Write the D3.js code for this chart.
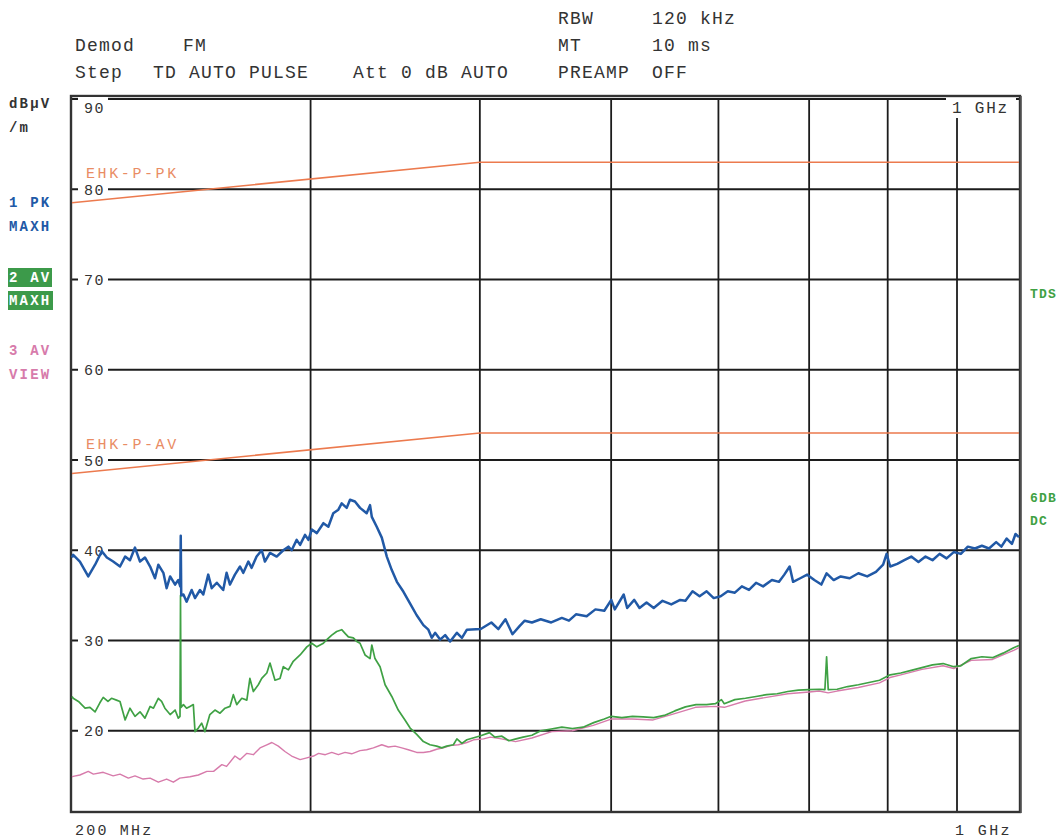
<!DOCTYPE html>
<html>
<head>
<meta charset="utf-8">
<script src="https://cdn.jsdelivr.net/npm/d3@7"></script>
<style>
body { margin: 0; background: #fff; }
text { font-family: "Liberation Mono", "DejaVu Sans Mono", monospace; }
</style>
</head>
<body>
<svg id="chart" width="1061" height="839"></svg>
<script>
// grid / tick values
const yTicks = [20, 30, 40, 50, 60, 70, 80, 90];
const xGrid = [300, 400, 500, 600, 700, 800, 900];

// limit lines [MHz, dBuV/m]
const pkLimit = [[200, 78.5], [400, 83], [1000, 83]];
const avLimit = [[200, 48.5], [400, 53], [1000, 53]];

// trace 1 : PK MAXH
const pkTrace = [[200,39.2],[200.4,39.5],[202.7,38.75],[205.6,37.1],[208.0,38.4],[210.4,39.9],[212.2,39.2],[214.5,38.75],[217.0,38.2],[218.9,39.3],[220.7,38.9],[222.6,40.3],[224.5,38.75],[226.4,39.2],[228.4,38.2],[230.3,36.9],[231.6,38.4],[233.6,37.5],[234.9,35.8],[236.3,37.1],[238.3,36.2],[239.6,36.7],[240.4,36.0],[240.6,41.6],[240.8,35.0],[241.7,35.1],[243.0,34.3],[245.1,35.6],[246.5,34.7],[248.6,35.6],[250.0,35.1],[252.1,37.3],[253.6,35.8],[255.8,36.4],[258.6,35.6],[260.1,37.5],[261.6,36.2],[263.8,37.3],[266.1,38.2],[267.6,37.5],[269.9,38.75],[271.4,38.05],[273.7,39.3],[276.1,40.0],[277.6,38.75],[280.0,39.7],[283.2,39.3],[286.4,40.0],[288.9,40.4],[290.5,40.0],[293.0,41.15],[294.7,40.6],[297.2,41.7],[298.9,41.15],[300.6,42.3],[303.2,41.9],[306.6,43.0],[309.2,42.6],[311.8,44.1],[314.5,44.5],[316.3,45.2],[319.0,44.7],[320.8,45.6],[323.5,45.4],[326.3,44.7],[330.0,44.1],[331.9,45.0],[332.9,43.7],[335.7,42.6],[338.6,41.4],[341.5,39.3],[344.4,37.8],[347.4,36.5],[351.3,35.4],[355.3,34.1],[359.3,32.8],[363.4,31.7],[366.5,31.2],[368.6,30.3],[370.7,30.85],[373.9,30.1],[377.1,30.6],[380.3,29.9],[384.7,30.85],[388.0,30.3],[391.3,31.2],
  [400.6,31.27],[407.9,32.0],[412.8,31.27],[417.8,32.36],[422.8,30.7],[427.9,31.6],[431.7,32.2],[437.0,32.0],[443.6,32.36],[451.6,32.0],[459.8,32.5],[465.4,32.2],[471.0,32.9],[479.6,32.7],[486.8,33.45],[494.2,33.3],[500.1,34.5],[503.1,33.45],[510.8,35.1],[513.8,33.6],[520.0,34.5],[524.7,33.6],[531.0,34.2],[537.5,33.6],[545.6,34.4],[553.8,34.0],[562.2,34.5],[567.3,34.4],[574.2,35.45],[581.1,34.9],[588.1,35.45],[595.2,34.7],[602.3,34.9],[609.6,35.45],[617.0,35.3],[624.4,36.0],[632.0,35.6],[639.6,36.4],[647.3,36.0],[657.1,36.7],[665.1,36.5],[671.1,37.3],[677.2,38.2],[681.2,36.5],[689.5,36.9],[697.7,37.3],[706.2,36.7],[714.7,36.2],[721.1,37.45],[729.8,36.7],[738.6,37.1],[749.9,36.9],[761.1,37.45],[772.6,37.1],[784.2,37.6],[793.8,38.4],[798.5,39.6],[803.4,38.2],[813.1,38.5],[822.9,38.9],[832.7,39.3],[842.9,38.7],[853.1,39.3],[863.3,38.9],[873.8,39.6],[884.2,39.1],[895.0,39.8],[905.9,39.6],[916.7,40.4],[927.8,40.2],[938.9,40.5],[950.3,40.2],[961.9,40.9],[970.5,40.4],[979.3,41.3],[988.1,40.7],[994.1,41.8],[1000,41.45]];

// trace 2 : AV MAXH
const avTrace = [[200,23.8],[200.4,23.6],[202.2,23.25],[204.5,22.5],[206.2,22.6],[208.0,22.1],[209.7,23.1],[210.9,23.7],[212.6,23.25],[213.9,23.6],[215.7,23.4],[217.0,23.25],[218.9,21.2],[220.7,22.5],[222.6,21.6],[224.5,22.1],[226.4,21.4],[228.4,22.7],[229.7,22.5],[231.6,23.6],[232.9,23.25],[234.2,22.5],[236.3,21.8],[238.3,22.3],[239.6,21.4],[240.3,21.6],[240.5,35.0],[240.7,22.6],[241.7,22.9],[243.0,22.5],[244.4,22.7],[245.8,22.9],[246.5,19.9],[247.9,20.3],[249.3,20.85],[250.7,19.9],[252.8,21.8],[255.0,22.3],[257.2,21.95],[259.4,22.5],[261.6,22.7],[263.1,24.0],[264.6,22.9],[266.9,23.6],[269.2,23.4],[270.6,25.8],[272.2,24.35],[274.5,25.1],[276.1,25.8],[278.5,26.4],[280.0,27.5],[282.4,25.6],[284.8,25.8],[286.4,27.1],[288.9,26.75],[291.3,27.7],[294.7,28.4],[298.1,29.3],[300.6,29.7],[303.2,29.3],[306.6,29.7],[308.4,30.1],[311.0,30.6],[313.6,31.0],[316.3,31.2],[318.1,30.8],[319.9,30.4],[322.6,30.3],[324.5,29.9],[326.3,29.7],[329.1,28.4],[331.9,28.0],[332.9,29.5],[334.7,28.0],[337.6,27.1],[340.5,25.1],[344.4,23.8],[348.2,22.3],[352.2,21.2],[355.3,20.3],[359.3,19.6],[363.4,18.8],[367.5,18.45],[371.7,18.3],[374.9,18.1],[378.1,18.3],[382.4,18.45],[384.7,19.1],[388.0,18.6],[391.3,19.0],
  [400.6,19.45],[406.6,19.8],[410.3,19.3],[415.3,19.4],[420.2,18.9],[425.4,19.1],[430.5,19.3],[437.0,19.5],[443.6,20.0],[451.6,20.2],[459.8,20.4],[468.2,20.25],[476.7,20.4],[485.4,20.9],[494.2,21.3],[500.1,21.6],[509.2,21.45],[518.5,21.6],[527.9,21.55],[537.5,21.45],[547.3,21.7],[557.1,22.2],[567.3,22.65],[577.6,22.9],[588.1,22.9],[596.9,23.0],[603.1,23.45],[606.0,23.0],[617.0,23.45],[628.2,23.6],[639.6,23.8],[651.2,24.0],[663.0,24.1],[675.1,24.35],[687.3,24.5],[699.7,24.55],[712.4,24.6],[719.0,24.55],[721.1,28.2],[723.1,24.55],[734.1,24.6],[747.4,24.9],[761.1,25.1],[774.9,25.35],[789.0,25.6],[803.4,26.2],[818.0,26.4],[832.7,26.7],[847.9,27.0],[863.3,27.3],[879.0,27.45],[895.0,27.1],[905.9,27.2],[922.2,28.0],[938.9,28.2],[956.0,28.1],[973.3,28.6],[991.0,29.2],[1000,29.45]];

// trace 3 : AV VIEW
const viewTrace = [[200,14.9],[200.4,14.95],[202.7,15.1],[205.6,15.5],[207.4,15.2],[210.9,15.4],[214.5,15.0],[217.0,15.2],[220.1,14.75],[222.6,15.0],[225.7,14.65],[228.4,14.75],[231.6,14.3],[234.9,14.65],[237.6,14.3],[240.2,14.75],[244.4,14.9],[247.9,15.1],[251.5,15.5],[254.4,15.5],[258.0,16.25],[260.1,16.05],[263.8,17.2],[266.1,16.8],[269.2,17.5],[272.2,17.35],[275.3,18.1],[278.5,18.45],[280.9,18.7],[284.0,18.3],[287.2,17.7],[290.5,17.2],[294.7,16.8],[298.1,17.0],[301.5,17.2],[304.1,17.5],[307.6,17.35],[311.0,17.6],[314.5,17.35],[318.1,17.6],[321.7,17.45],[326.3,17.8],[330.0,17.9],[333.8,18.1],[338.6,18.45],[342.4,18.2],[346.3,18.3],[350.3,18.1],[354.2,17.9],[359.3,17.6],[363.4,17.6],[367.5,17.7],[371.7,17.95],[375.9,18.1],[380.3,18.35],[385.7,18.45],[391.3,18.7],[395.8,19.0],[402.5,19.1],[407.2,19.3],
  [415,19.1],[425,18.8],[437,19.2],[452,19.9],[468,20.0],[485,20.6],[500,21.3],[518,21.3],[537,21.2],[557,21.9],[577,22.6],[597,22.7],[606,22.6],[628,23.3],[651,23.7],[675,24.1],[700,24.3],[712,24.4],[723,24.2],[734,24.4],[761,24.8],[789,25.3],[803,25.9],[818,26.2],[848,26.8],[879,27.2],[895,26.9],[922,27.8],[956,27.9],[973,28.4],[991,28.9],[1000,29.2]];

// header rows
const headerItems = [
  {t: "RBW", x: 558, y: 24}, {t: "120 kHz", x: 652, y: 24},
  {t: "Demod", x: 75, y: 51}, {t: "FM", x: 183, y: 51}, {t: "MT", x: 558, y: 51}, {t: "10 ms", x: 652, y: 51},
  {t: "Step", x: 75, y: 78}, {t: "TD AUTO PULSE", x: 153, y: 78}, {t: "Att 0 dB AUTO", x: 353, y: 78},
  {t: "PREAMP", x: 558, y: 78}, {t: "OFF", x: 652, y: 78}
];

const C = {blue: "#2159a6", green: "#3fa144", pink: "#d77bab", limit: "#ec7a4e", limitText: "#e98c64", grid: "#1c1c1c"};

const svg = d3.select("#chart");
const x = d3.scaleLog().domain([200, 1000]).range([72, 1019]);
const y = d3.scaleLinear().domain([11, 90]).range([812, 99]);

// grid
svg.append("g").selectAll("line.h").data(yTicks).enter().append("line")
  .attr("x1", x(200)).attr("x2", x(1000))
  .attr("y1", d => y(d)).attr("y2", d => y(d))
  .attr("stroke", C.grid).attr("stroke-width", 1.8);
svg.append("g").selectAll("line.v").data(xGrid).enter().append("line")
  .attr("x1", d => x(d)).attr("x2", d => x(d))
  .attr("y1", y(90)).attr("y2", y(11))
  .attr("stroke", C.grid).attr("stroke-width", 1.8);

// frame (doubled edges like the plotter output)
svg.append("rect").attr("x", 71).attr("y", 96).attr("width", 949).attr("height", 716)
  .attr("fill", "none").attr("stroke", "#333").attr("stroke-width", 2.4);
svg.append("line").attr("x1", 1021).attr("x2", 1021).attr("y1", 96).attr("y2", 813)
  .attr("stroke", "#555").attr("stroke-width", 1.6);

// y labels with white knockouts
const yl = svg.append("g");
yTicks.forEach(function(v) {
  const cy = v === 90 ? y(v) + 8 : y(v);
  yl.append("rect").attr("x", 78).attr("y", (v === 90 ? y(v) - 2 : cy - 6)).attr("width", 30).attr("height", v === 90 ? 17 : 12).attr("fill", "#fff");
  yl.append("text").attr("x", 84).attr("y", cy + 5.5)
    .attr("font-size", 15).attr("letter-spacing", 1.6).attr("fill", "#333").text(v);
});

// "1 GHz" at top right
svg.append("rect").attr("x", 946).attr("y", 98).attr("width", 70).attr("height", 20).attr("fill", "#fff");
svg.append("text").attr("x", 952).attr("y", 113).attr("font-size", 16).attr("letter-spacing", 1.8).attr("fill", "#333").text("1 GHz");

const line = d3.line().x(d => x(d[0])).y(d => y(d[1]));

// limit lines
[pkLimit, avLimit].forEach(function(l) {
  svg.append("path").datum(l).attr("d", line).attr("fill", "none")
    .attr("stroke", C.limit).attr("stroke-width", 1.6);
});
svg.append("text").attr("x", 86).attr("y", 178).attr("font-size", 15).attr("letter-spacing", 2.6)
  .attr("fill", C.limitText).text("EHK-P-PK");
svg.append("text").attr("x", 86).attr("y", 449).attr("font-size", 15).attr("letter-spacing", 2.6)
  .attr("fill", C.limitText).text("EHK-P-AV");

// traces
svg.append("path").datum(viewTrace).attr("d", line).attr("fill", "none")
  .attr("stroke", C.pink).attr("stroke-width", 1.4).attr("stroke-linejoin", "round");
svg.append("path").datum(avTrace).attr("d", line).attr("fill", "none")
  .attr("stroke", C.green).attr("stroke-width", 1.7).attr("stroke-linejoin", "round");
svg.append("path").datum(pkTrace).attr("d", line).attr("fill", "none")
  .attr("stroke", C.blue).attr("stroke-width", 2.5).attr("stroke-linejoin", "round");

// header
svg.append("g").selectAll("text").data(headerItems).enter().append("text")
  .attr("x", d => d.x).attr("y", d => d.y)
  .attr("font-size", 18).attr("letter-spacing", 1.2).attr("fill", "#333")
  .text(d => d.t);

// left legend
const leg = svg.append("g").attr("font-weight", "bold").attr("font-size", 14).attr("letter-spacing", 2.2);
leg.append("text").attr("x", 9).attr("y", 108).attr("fill", "#333").text("dBµV");
leg.append("text").attr("x", 9).attr("y", 132).attr("fill", "#333").text("/m");
leg.append("text").attr("x", 9).attr("y", 207).attr("fill", C.blue).text("1 PK");
leg.append("text").attr("x", 9).attr("y", 231).attr("fill", C.blue).text("MAXH");
leg.append("rect").attr("x", 8).attr("y", 268).attr("width", 44).attr("height", 19).attr("fill", "#3c9a4a");
leg.append("rect").attr("x", 8).attr("y", 291).attr("width", 45).attr("height", 19).attr("fill", "#3c9a4a");
leg.append("text").attr("x", 9).attr("y", 282).attr("fill", "#fff").text("2 AV");
leg.append("text").attr("x", 9).attr("y", 305).attr("fill", "#fff").text("MAXH");
leg.append("text").attr("x", 9).attr("y", 355).attr("fill", C.pink).text("3 AV");
leg.append("text").attr("x", 9).attr("y", 379).attr("fill", C.pink).text("VIEW");

// right annotations
const ra = svg.append("g").attr("font-weight", "bold").attr("font-size", 13).attr("letter-spacing", 1.2).attr("fill", C.green);
ra.append("text").attr("x", 1030).attr("y", 298).text("TDS");
ra.append("text").attr("x", 1030).attr("y", 502).text("6DB");
ra.append("text").attr("x", 1030).attr("y", 525).text("DC");

// bottom labels
svg.append("text").attr("x", 75).attr("y", 835).attr("font-size", 15).attr("letter-spacing", 2.2).attr("fill", "#333").text("200 MHz");
svg.append("text").attr("x", 955).attr("y", 835).attr("font-size", 15).attr("letter-spacing", 2.4).attr("fill", "#333").text("1 GHz");
</script>
</body>
</html>
